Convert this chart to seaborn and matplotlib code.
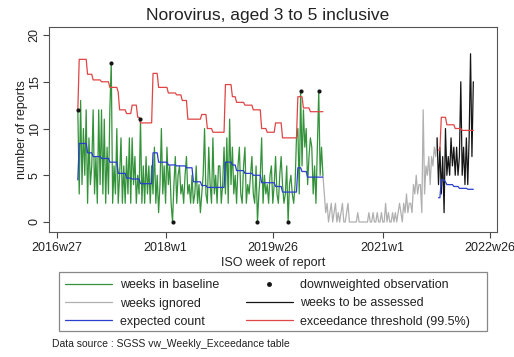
import numpy as np
import pandas as pd
import matplotlib
matplotlib.use("Agg")
import matplotlib.pyplot as plt
import seaborn as sns
from matplotlib.lines import Line2D
from matplotlib.patches import Rectangle

sns.set_theme(style="white")
plt.rcParams['font.family'] = ['Liberation Sans', 'DejaVu Sans']

# Week index: 0 = 2016w27 (52-week years)
tick_weeks = [0, 78, 155, 234, 311]
tick_labels = ["2016w27", "2018w1", "2019w26", "2021w1", "2022w26"]

baseline_first_week = 15
baseline_counts = [
    12, 3, 13, 4, 10, 5, 12, 2, 9, 4,
    6, 12, 3, 7, 2, 12, 4, 12, 3, 11,
    2, 8, 3, 12, 17, 2, 6, 3, 10, 2,
    5, 9, 2, 6, 2, 7, 3, 9, 2, 9,
    4, 7, 2, 5, 3, 11, 2, 6, 2, 7,
    3, 6, 2, 6, 3, 8, 2, 5, 1, 4,
    10, 3, 6, 2, 8, 4, 6, 2, 0, 4,
    7, 2, 5, 6, 3, 4, 2, 5, 7, 3,
    4, 2, 5, 2, 3, 6, 2, 4, 1, 3,
    5, 10, 3, 2, 8, 4, 2, 9, 3, 5,
    2, 6, 6, 2, 4, 8, 3, 9, 2, 11,
    4, 8, 3, 5, 2, 6, 8, 3, 2, 6,
    8, 2, 4, 3, 5, 7, 3, 2, 6, 0,
    3, 5, 9, 2, 5, 3, 4, 2, 5, 6,
    2, 4, 7, 3, 2, 5, 7, 4, 2, 3,
    6, 0, 4, 5, 3, 2, 4, 9, 10, 3,
    14, 6, 12, 8, 10, 4, 7, 9, 8, 3,
    6, 2, 8, 14, 5, 8, 5,
]
downweighted_weeks = [15, 39, 60, 83, 144, 166, 175, 188]

ignored_first_week = 192
ignored_counts = [
    3, 1, 2, 0, 1, 2, 0, 1, 2, 0,
    1, 0, 1, 2, 0, 0, 1, 2, 0, 0,
    0, 0, 0, 0, 1, 0, 0, 0, 0, 0,
    0, 0, 1, 0, 0, 1, 0, 0, 1, 0,
    0, 1, 0, 0, 2, 0, 1, 0, 0, 1,
    0, 1, 0, 1, 2, 1, 0, 2, 1, 3,
    1, 2, 2, 1, 4, 3, 5, 3, 4, 4,
    1, 12, 3, 6, 5, 7, 4, 7, 6, 8,
    7,
]

assessed_first_week = 273
assessed_counts = [
    9, 4, 8, 3, 7, 1, 10, 5, 7, 5,
    9, 6, 8, 5, 8, 5, 7, 15, 5, 8,
    4, 9, 4, 9, 18, 7, 15,
]

# Model output: level and number of weeks it holds
expected_levels = [4.5, 8.4, 7.4, 7.0, 6.8, 6.4, 5.2, 4.7, 4.6, 4.1,
                   7.4, 6.4, 6.1, 6.0, 5.8, 4.3, 3.9, 3.7,
                   6.4, 6.1, 5.5, 5.2, 5.0, 4.2, 3.8, 3.2,
                   5.8, 5.4, 4.8]
expected_spans = [1, 6, 4, 6, 6, 6, 6, 4, 6, 9,
                  4, 7, 6, 7, 5, 6, 4, 13,
                  5, 3, 6, 6, 6, 10, 5, 11,
                  3, 4, 12]
threshold_levels = [12.0, 17.4, 15.8, 15.2, 15.0, 14.4, 13.9, 12.0, 11.6, 12.5, 11.2, 10.6,
                    15.9, 14.4, 13.8, 13.6, 13.0, 11.0, 11.5, 10.0, 9.6,
                    14.7, 13.4, 12.8, 12.5, 12.0, 10.0, 9.6, 10.6, 9.0,
                    13.4, 12.2, 11.8]
threshold_spans = [1, 6, 4, 6, 6, 6, 1, 5, 4, 4, 2, 9,
                   4, 7, 6, 4, 4, 10, 4, 4, 9,
                   5, 3, 6, 6, 6, 4, 6, 5, 11,
                   4, 5, 10]

assessed_model_first_week = 274
expected_assessed_levels = [2.6, 4.5, 4.3, 4.0, 3.8, 3.6, 3.5]
expected_assessed_spans = [2, 3, 1, 5, 4, 6, 5]
threshold_assessed_levels = [7.7, 11.2, 10.4, 10.0, 9.8]
threshold_assessed_spans = [2, 4, 6, 5, 9]

GREEN = "#33923a"
GREY = "#b0b0b0"
BLACK = "#151515"
BLUE = "#2a3fcc"
RED = "#e04545"
LW = 0.9


def weeks_from(first, n):
    return np.arange(first, first + n)


baseline = pd.DataFrame({
    "week": weeks_from(baseline_first_week, len(baseline_counts)),
    "count": baseline_counts,
    "expected": np.repeat(expected_levels, expected_spans),
    "threshold": np.repeat(threshold_levels, threshold_spans),
})
ignored = pd.DataFrame({
    "week": weeks_from(baseline_first_week + len(baseline_counts) - 1, len(ignored_counts) + 2),
    "count": [baseline_counts[-1]] + ignored_counts + [assessed_counts[0]],
})
assessed = pd.DataFrame({
    "week": weeks_from(assessed_first_week, len(assessed_counts)),
    "count": assessed_counts,
})
assessed_model = pd.DataFrame({
    "week": weeks_from(assessed_model_first_week, sum(expected_assessed_spans)),
    "expected": np.repeat(expected_assessed_levels, expected_assessed_spans),
    "threshold": np.repeat(threshold_assessed_levels, threshold_assessed_spans),
})
dw = baseline[baseline["week"].isin(downweighted_weeks)]

W, H = 514, 357
fig = plt.figure(figsize=(W / 100, H / 100), dpi=100)
fig.patch.set_facecolor("white")
ax = fig.add_axes([49 / W, 1 - 232 / H, 448 / W, 205 / H])

sns.lineplot(data=ignored, x="week", y="count", ax=ax, color=GREY, lw=LW, sort=False)
sns.lineplot(data=baseline, x="week", y="count", ax=ax, color=GREEN, lw=LW, sort=False)
sns.lineplot(data=assessed, x="week", y="count", ax=ax, color=BLACK, lw=LW, sort=False)
sns.lineplot(data=baseline, x="week", y="expected", ax=ax, color=BLUE, lw=LW, sort=False)
sns.lineplot(data=baseline, x="week", y="threshold", ax=ax, color=RED, lw=LW, sort=False)
sns.lineplot(data=assessed_model, x="week", y="expected", ax=ax, color=BLUE, lw=LW, sort=False)
sns.lineplot(data=assessed_model, x="week", y="threshold", ax=ax, color=RED, lw=LW, sort=False)
sns.scatterplot(data=dw, x="week", y="count", ax=ax, color=BLACK, s=9, linewidth=0, zorder=5)

ax.set_xlim(-5.7, 316)
ax.set_ylim(-1.07, 20.86)
ax.set_xticks(tick_weeks)
ax.set_xticklabels(tick_labels, fontsize=9, color="#222")
ax.set_yticks([0, 5, 10, 15, 20])
ax.set_yticklabels(["0", "5", "10", "15", "20"], fontsize=9, color="#222",
                   rotation=90, va="center")
ax.tick_params(axis="both", direction="out", length=4, width=0.8, color="#444",
               bottom=True, left=True)
ax.tick_params(axis="y", pad=2)
ax.tick_params(axis="x", pad=3)
ax.set_xlabel("")
ax.set_ylabel("")
for sp in ax.spines.values():
    sp.set_visible(True)
    sp.set_color("#555")
    sp.set_linewidth(0.8)

fig.text(268 / W, 1 - 15.5 / H, "Norovirus, aged 3 to 5 inclusive",
         ha="center", va="center", fontsize=12.5, color="#222")
fig.text(273 / W, 1 - 263 / H, "ISO week of report",
         ha="center", va="center", fontsize=9, color="#222")
fig.text(22 / W, 1 - 129.5 / H, "number of reports", rotation=90,
         ha="center", va="center", fontsize=9, color="#222")

# Legend box drawn as its own frame, entries placed inside it
fig.patches.append(Rectangle((59 / W, 1 - 331 / H), 428 / W, 59 / H,
                             transform=fig.transFigure, fill=False,
                             edgecolor="#888", linewidth=0.9))
handles = [
    Line2D([], [], color=GREEN, lw=LW),
    Line2D([], [], color=GREY, lw=LW),
    Line2D([], [], color=BLUE, lw=LW),
    Line2D([], [], color=BLACK, marker="o", ls="none", ms=2.5),
    Line2D([], [], color=BLACK, lw=LW),
    Line2D([], [], color=RED, lw=LW),
]
labels = ["weeks in baseline", "weeks ignored", "expected count",
          "downweighted observation", "weeks to be assessed",
          "exceedance threshold (99.5%)"]
leg = fig.legend(handles, labels, loc="center left", ncol=2,
                 bbox_to_anchor=(65 / W, 1 - 303.5 / H),
                 fontsize=9, handlelength=3.76, handletextpad=0.64,
                 columnspacing=2.1, labelspacing=0.5, borderpad=0,
                 borderaxespad=0, frameon=False)
for t in leg.get_texts():
    t.set_color("#222")

fig.text(52 / W, 1 - 344 / H, "Data source : SGSS vw_Weekly_Exceedance table",
         ha="left", va="center", fontsize=7.5, color="#222")

fig.savefig("out.png", dpi=100)
